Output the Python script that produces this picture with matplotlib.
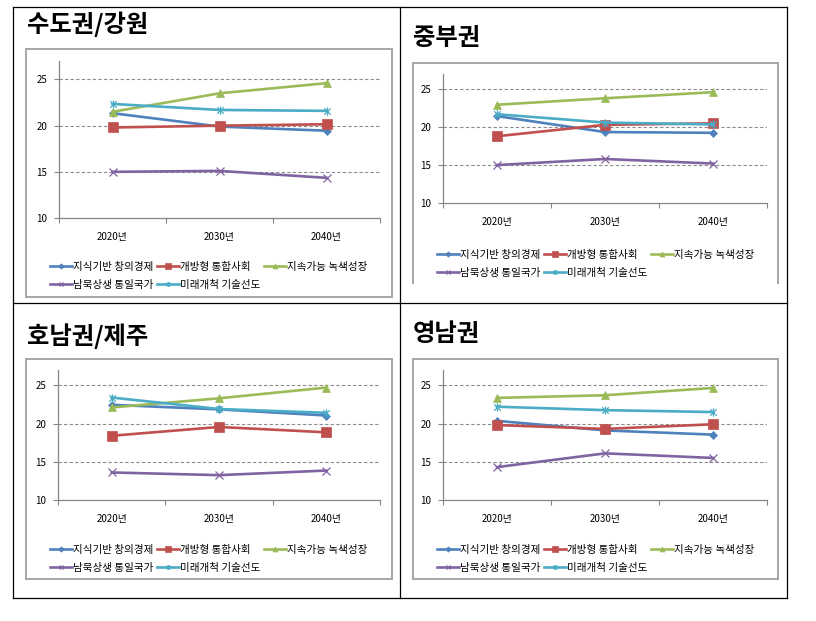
import matplotlib
matplotlib.use('Agg')
import matplotlib.pyplot as plt
from matplotlib.path import Path
from matplotlib.lines import Line2D

plt.rcParams['font.family'] = ['Noto Sans CJK KR', 'DejaVu Sans']

W, H = 816, 621

# ---------------- data ----------------
years = ['2020년', '2030년', '2040년']
series_names = ['지식기반 창의경제', '개방형 통합사회', '지속가능 녹색성장',
                '남북상생 통일국가', '미래개척 기술선도']
region_titles = ['수도권/강원', '중부권', '호남권/제주', '영남권']

# order of each region list follows series_names
capital_gangwon = [
    [21.35, 19.9, 19.45],
    [19.8, 20.0, 20.15],
    [21.5, 23.5, 24.6],
    [15.0, 15.1, 14.35],
    [22.35, 21.7, 21.6],
]
central = [
    [21.45, 19.35, 19.25],
    [18.8, 20.3, 20.5],
    [22.95, 23.8, 24.6],
    [15.0, 15.8, 15.2],
    [21.7, 20.6, 20.35],
]
honam_jeju = [
    [22.45, 21.85, 21.05],
    [18.4, 19.55, 18.85],
    [22.1, 23.3, 24.7],
    [13.6, 13.25, 13.85],
    [23.4, 21.9, 21.4],
]
yeongnam = [
    [20.35, 19.1, 18.55],
    [19.8, 19.3, 19.9],
    [23.35, 23.7, 24.65],
    [14.3, 16.1, 15.5],
    [22.2, 21.75, 21.5],
]
region_values = [capital_gangwon, central, honam_jeju, yeongnam]

y_ticks = [10, 15, 20, 25]

# ---------------- styles ----------------
colors = ['#4F81BD', '#C0504D', '#9BBB59', '#8064A2', '#4BACC6']
star = Path([(-1, -1), (1, 1), (-1, 1), (1, -1), (0, -1.3), (0, 1.3)],
            [Path.MOVETO, Path.LINETO] * 3)
markers = ['D', 's', '^', 'x', star]
msizes = [4.5, 6.5, 6, 6, 6]

# layout (pixel coordinates)
panels = [
    dict(title=(27, 24), box=(26, 49, 392, 297), closed=True,
         plot=(59, 61, 380, 218), leg=(50, 262)),
    dict(title=(413, 38), box=(413, 63, 778, 283), closed=False,
         plot=(443, 74, 767, 203), leg=(437, 250)),
    dict(title=(27, 336), box=(26, 359, 392, 579), closed=True,
         plot=(58, 370, 380, 500), leg=(50, 545)),
    dict(title=(413, 334), box=(413, 359, 778, 579), closed=True,
         plot=(443, 370, 767, 500), leg=(437, 545)),
]


def fx(x):
    return x / W


def fy(y):
    return 1 - y / H


fig = plt.figure(figsize=(W / 100, H / 100), dpi=100)

# table grid
tbl = dict(color='black', lw=0.9, transform=fig.transFigure)
for (x0, y0, x1, y1) in [(13, 7, 787, 7), (13, 598, 787, 598), (13, 303, 787, 303),
                         (13, 7, 13, 598), (787, 7, 787, 598), (400, 7, 400, 598)]:
    fig.add_artist(Line2D([fx(x0), fx(x1)], [fy(y0), fy(y1)], **tbl))

for p, title, vals in zip(panels, region_titles, region_values):
    # title
    fig.text(fx(p['title'][0]), fy(p['title'][1]), title, fontsize=17.5,
             fontweight='bold', va='center', ha='left')
    # chart box
    bx0, by0, bx1, by1 = p['box']
    bkw = dict(color='#A6A6A6', lw=1.4, transform=fig.transFigure)
    fig.add_artist(Line2D([fx(bx0), fx(bx1)], [fy(by0), fy(by0)], **bkw))
    fig.add_artist(Line2D([fx(bx0), fx(bx0)], [fy(by0), fy(by1)], **bkw))
    fig.add_artist(Line2D([fx(bx1), fx(bx1)], [fy(by0), fy(by1)], **bkw))
    if p['closed']:
        fig.add_artist(Line2D([fx(bx0), fx(bx1)], [fy(by1), fy(by1)], **bkw))

    px0, py0, px1, py1 = p['plot']
    ax = fig.add_axes([fx(px0), fy(py1), (px1 - px0) / W, (py1 - py0) / H])
    ax.set_facecolor('none')
    xs = list(range(len(years)))
    handles = []
    for i, (name, v) in enumerate(zip(series_names, vals)):
        mk = markers[i]
        mfc = colors[i] if i < 3 else 'none'
        h, = ax.plot(xs, v, color=colors[i], lw=1.9, marker=mk, markersize=msizes[i],
                     markerfacecolor=mfc, markeredgecolor=colors[i],
                     markeredgewidth=0.9 if i >= 3 else 0.5, label=name, zorder=3)
        handles.append(h)

    ax.set_xlim(-0.5, 2.5)
    ax.set_ylim(10, 27)
    ax.set_yticks(y_ticks)
    ax.set_yticklabels([str(t) for t in y_ticks], fontsize=7)
    for t in y_ticks[1:]:
        ax.axhline(t, color='#8C8C8C', lw=0.8, ls=(0, (3, 2)), zorder=1)
    ax.set_xticks([-0.5, 0.5, 1.5, 2.5])
    ax.set_xticklabels([])
    ax.set_xticks(xs, minor=True)
    ax.set_xticklabels(years, minor=True, fontsize=7)
    ax.tick_params(axis='x', which='minor', length=0, pad=10)
    ax.tick_params(axis='x', which='major', length=3.5, direction='out', color='#868686')
    ax.tick_params(axis='y', length=3.5, direction='out', color='#868686', pad=5)
    for s in ['top', 'right']:
        ax.spines[s].set_visible(False)
    for s in ['left', 'bottom']:
        ax.spines[s].set_color('#868686')
        ax.spines[s].set_linewidth(0.9)

    order = [0, 3, 1, 4, 2]
    lx, ly = p['leg']
    ax.legend([handles[k] for k in order], [series_names[k] for k in order],
              ncol=3, loc='upper left', bbox_to_anchor=(fx(lx), fy(ly)),
              bbox_transform=fig.transFigure, frameon=False, fontsize=7.6,
              borderpad=0, borderaxespad=0, handlelength=2.1, handletextpad=0.1,
              columnspacing=0.3, labelspacing=0.75, markerscale=0.6)

fig.savefig('out.png', dpi=100)
